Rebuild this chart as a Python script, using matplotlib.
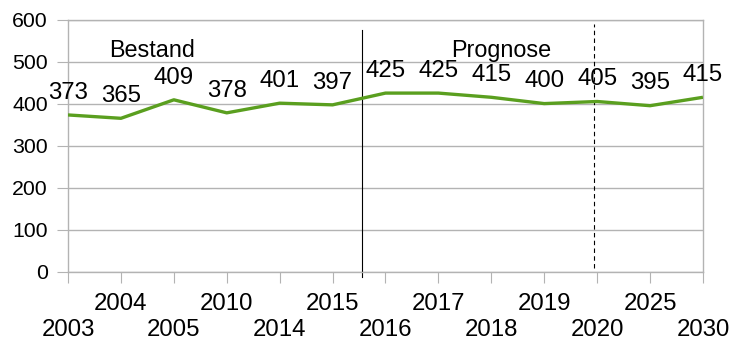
import matplotlib.pyplot as plt

YEARS = ["2003", "2004", "2005", "2010", "2014", "2015", "2016",
         "2017", "2018", "2019", "2020", "2025", "2030"]
VALUES = [373, 365, 409, 378, 401, 397, 425, 425, 415, 400, 405, 395, 415]

SPLIT_X = 5.56      # Bestand / Prognose boundary (between 2015 and 2016)
DASH_X = 9.95       # marker near 2020
SECTION_LABELS = [("Bestand", 1.59, 527), ("Prognose", 8.19, 527)]

GREEN = "#5a9f1f"
GRID = "#b3b3b3"

plt.rcParams["font.family"] = ["Liberation Sans", "DejaVu Sans"]

fig = plt.figure(figsize=(7.33, 3.43), dpi=100)
ax = fig.add_axes([0.0928, 0.2079, 0.8662, 0.7351])

x = list(range(len(YEARS)))
ax.plot(x, VALUES, color=GREEN, lw=2.4, solid_capstyle="butt", zorder=3)

for xi, v in zip(x, VALUES):
    ax.annotate(str(v), (xi, v), xytext=(0, 16), textcoords="offset points",
                ha="center", va="center", fontsize=17.3, clip_on=False)

for text, tx, ty in SECTION_LABELS:
    ax.text(tx, ty, text, ha="center", va="center", fontsize=16.8)

ax.plot([SPLIT_X, SPLIT_X], [-12, 575], color="black", lw=0.8, clip_on=False)
ax.plot([DASH_X, DASH_X], [8, 590], color="black", lw=0.8,
        ls=(0, (4, 3)), clip_on=False)

ax.set_xlim(0, len(YEARS) - 1)
ax.set_ylim(0, 600)
ax.set_yticks(range(0, 601, 100))
ax.set_xticks(x)
ax.set_xticklabels([y if i % 2 else "\n" + y for i, y in enumerate(YEARS)],
                   fontsize=17.3, linespacing=1.28)
ax.tick_params(axis="y", labelsize=15.3, length=8, color=GRID, pad=6.5)
ax.tick_params(axis="x", length=8, color=GRID, pad=7)

ax.grid(axis="y", color=GRID, lw=1)
ax.set_axisbelow(True)
for s in ax.spines.values():
    s.set_color(GRID)
    s.set_linewidth(1)

fig.savefig("out.png", dpi=100)
